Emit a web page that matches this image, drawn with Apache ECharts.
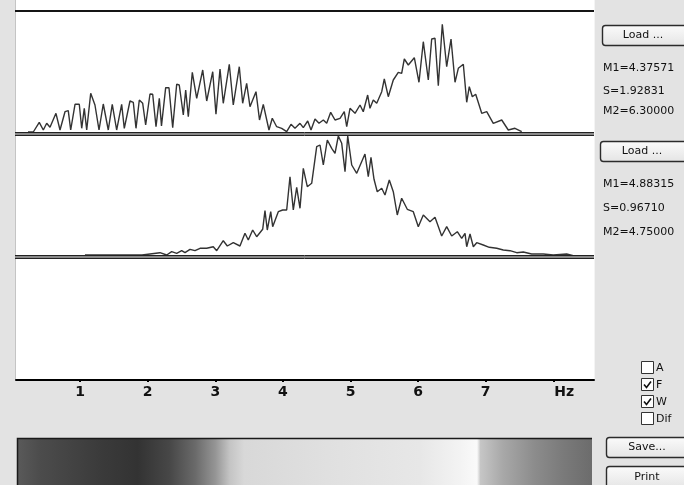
<!DOCTYPE html>
<html>
<head>
<meta charset="utf-8">
<script src="https://cdn.jsdelivr.net/npm/echarts@6/dist/echarts.min.js"></script>
<style>
  html, body { margin: 0; padding: 0; background: #e3e3e3; }
  #main { width: 684px; height: 485px; }
</style>
</head>
<body>
<div id="main"></div>
<script>
// spectrum 1 (upper pane): [Hz, amplitude]
var topSpectrum = [
  [0.229,0],[0.308,0],[0.396,9.7],[0.456,2],[0.506,8.7],[0.555,4.7],[0.643,18.7],[0.703,2],[0.777,20.3],[0.825,21.3],
  [0.861,2],[0.925,27.7],[0.988,27.7],[1.024,3.7],[1.062,23.7],[1.098,2],[1.157,38.7],[1.220,27],[1.280,2],[1.343,28],
  [1.417,2],[1.476,27.7],[1.541,2],[1.615,27.7],[1.654,3.7],[1.738,31],[1.787,29.7],[1.827,3.7],[1.876,32],[1.926,28.7],
  [1.970,7],[2.034,38],[2.074,37.7],[2.123,5.3],[2.172,33.7],[2.204,6],[2.266,44.3],[2.315,44.3],[2.370,4.3],[2.429,47.7],
  [2.467,47],[2.527,17],[2.562,42],[2.601,15.3],[2.660,59.7],[2.725,33.7],[2.814,62],[2.873,31],[2.962,60.3],[3.010,17.7],
  [3.070,63],[3.118,28.7],[3.207,67.7],[3.266,27],[3.355,65.3],[3.405,28.7],[3.464,48.7],[3.513,25.3],[3.602,40.3],[3.654,12],
  [3.710,27.7],[3.794,2],[3.843,13.7],[3.908,5.3],[3.982,3.7],[4.056,0.3],[4.120,7.7],[4.179,3.7],[4.253,8.7],[4.302,4.3],
  [4.367,11],[4.416,2],[4.475,13],[4.534,8.7],[4.598,12],[4.648,8.7],[4.707,19.7],[4.771,12],[4.845,13.7],[4.908,20.3],
  [4.944,5.3],[4.993,23.7],[5.067,18.7],[5.141,27],[5.189,20.3],[5.254,37],[5.288,23.7],[5.337,32],[5.388,28.7],[5.462,40.3],
  [5.500,53],[5.559,35.3],[5.633,52],[5.707,59.7],[5.757,58.7],[5.796,73],[5.855,67],[5.944,74.3],[6.013,49.7],[6.077,90.3],
  [6.151,52],[6.201,93],[6.250,93.7],[6.299,46.3],[6.358,107.7],[6.423,65.3],[6.487,93],[6.546,49.7],[6.595,63.7],[6.669,67.7],
  [6.719,29.7],[6.757,45.3],[6.802,35.3],[6.852,37.7],[6.941,18.7],[7.015,20.3],[7.112,8.7],[7.237,12],[7.334,2],[7.433,3.7],
  [7.533,0.3]
];
// spectrum 2 (middle pane)
var bottomSpectrum = [
  [1.072,1],[1.837,1],[1.861,2.7],[1.916,1],[2.182,3.3],[2.281,1],[2.355,4.3],[2.429,2.7],[2.503,5.3],[2.552,3.3],
  [2.626,6.7],[2.700,5.3],[2.774,7.7],[2.873,7.7],[2.970,9.3],[3.021,5.3],[3.118,15.3],[3.178,10],[3.266,13.3],[3.365,10],
  [3.439,22.7],[3.488,16],[3.553,26],[3.612,19.3],[3.701,26.7],[3.735,45.3],[3.769,26],[3.820,44.3],[3.849,29.3],[3.932,44.3],
  [3.997,46],[4.056,46],[4.105,79.3],[4.154,46],[4.204,68.7],[4.253,47.7],[4.302,87.7],[4.361,69.3],[4.426,72.7],[4.500,109.3],
  [4.549,111],[4.598,91],[4.657,116],[4.722,107.7],[4.771,102.7],[4.820,120],[4.870,112.7],[4.919,84.3],[4.959,120],[5.018,91],
  [5.092,82.7],[5.214,102],[5.263,79.3],[5.303,98.7],[5.348,76.7],[5.396,64.3],[5.462,67.7],[5.510,61],[5.574,76],[5.633,64.3],
  [5.692,41],[5.757,57.7],[5.840,46.7],[5.929,44.3],[6.003,29.3],[6.077,41],[6.176,34.3],[6.250,38.7],[6.349,20],[6.423,29.3],
  [6.497,20],[6.580,24.3],[6.645,17.7],[6.694,22.7],[6.719,9.3],[6.768,22],[6.817,9.3],[6.867,13.3],[6.964,11],[7.053,8.7],
  [7.163,7.7],[7.260,6],[7.359,5.3],[7.459,3.3],[7.556,4],[7.680,2],[7.852,2],[8.000,1],[8.198,2],[8.296,0.3]
];
var freqTicks = [1, 2, 3, 4, 5, 6, 7, 8];
var tickNames = ['1', '2', '3', '4', '5', '6', '7', 'Hz'];
var stats1 = ['M1=4.37571', 'S=1.92831', 'M2=6.30000'];
var stats2 = ['M1=4.88315', 'S=0.96710', 'M2=4.75000'];
var checkNames = ['A', 'F', 'W', 'Dif'];
var checkOn = [false, true, true, false];
var barStops = [
  [0, '#5a5a5a'], [0.04, '#4c4c4c'], [0.15, '#3a3a3a'], [0.21, '#333333'], [0.265, '#474747'],
  [0.31, '#6a6a6a'], [0.345, '#959595'], [0.37, '#c4c4c4'], [0.395, '#d8d8d8'], [0.54, '#e0e0e0'],
  [0.7, '#e7e7e7'], [0.77, '#f3f3f3'], [0.8, '#fafafa'], [0.806, '#c6c6c6'], [0.845, '#a8a8a8'],
  [0.9, '#8c8c8c'], [0.95, '#7a7a7a'], [1, '#6c6c6c']
];

var FONT = '11px "DejaVu Sans", sans-serif';
var xMin = 0.052, xMax = 8.602;

function button(x, y, w, h, label, tx) {
  return {
    type: 'group', z: 20,
    children: [
      { type: 'rect', shape: { x: x, y: y, width: w, height: h, r: 3 },
        style: { fill: new echarts.graphic.LinearGradient(0, 0, 0, 1, [{offset: 0, color: '#fbfbfb'}, {offset: 1, color: '#e4e4e4'}]),
                 stroke: '#2b2b2b', lineWidth: 1.4 } },
      { type: 'text', style: { text: label, x: tx, y: y + h / 2, font: FONT, fill: '#111',
        align: 'center', verticalAlign: 'middle', textAlign: 'center', textVerticalAlign: 'middle' } }
    ]
  };
}
function label(text, x, y) {
  return { type: 'text', z: 20, style: { text: text, x: x, y: y, font: FONT, fill: '#111',
    align: 'left', verticalAlign: 'middle', textAlign: 'left', textVerticalAlign: 'middle' } };
}
function hline(y, color, w) {
  return { type: 'line', z: 10, shape: { x1: 15, y1: y, x2: 594, y2: y }, style: { stroke: color, lineWidth: w } };
}

var graphics = [
  // white plotting area
  { type: 'rect', z: -10, shape: { x: 15, y: 0, width: 579, height: 379 }, style: { fill: '#ffffff' } },
  { type: 'line', z: -9, shape: { x1: 15.5, y1: 0, x2: 15.5, y2: 380 }, style: { stroke: '#c4c4c4', lineWidth: 1 } },
  { type: 'line', z: -9, shape: { x1: 594.5, y1: 0, x2: 594.5, y2: 380 }, style: { stroke: '#f4f4f4', lineWidth: 1 } },
  hline(11, '#151515', 2),
  hline(132.5, '#222', 1), hline(134, '#8a8a8a', 2), hline(135.5, '#222', 1),
  hline(255.5, '#222', 1), hline(257, '#8a8a8a', 2), hline(258.5, '#222', 1),
  // colour bar
  { type: 'rect', z: -5, shape: { x: 17, y: 438, width: 575, height: 50 },
    style: { fill: new echarts.graphic.LinearGradient(0, 0, 1, 0, barStops.map(function (s) { return { offset: s[0], color: s[1] }; })) } },
  { type: 'polyline', z: -4, shape: { points: [[17.5, 488], [17.5, 438.5], [592, 438.5]] }, style: { stroke: '#1a1a1a', lineWidth: 1.5, fill: null } },
  button(602.5, 25.5, 90, 20, 'Load ...', 643),
  button(600.5, 141.5, 92, 20, 'Load ...', 642),
  button(606.5, 437.5, 90, 20, 'Save...', 647),
  button(606.5, 466.5, 90, 22, 'Print', 647)
];
stats1.forEach(function (s, i) { graphics.push(label(s, 603, [68, 91, 111][i])); });
stats2.forEach(function (s, i) { graphics.push(label(s, 603, [184, 208, 232][i])); });
checkNames.forEach(function (n, i) {
  var y = 361 + i * 17;
  graphics.push({ type: 'rect', z: 20, shape: { x: 641.5, y: y + 0.5, width: 12, height: 12 }, style: { fill: '#fff', stroke: '#333', lineWidth: 1 } });
  if (checkOn[i]) {
    graphics.push({ type: 'polyline', z: 21, shape: { points: [[644, y + 6.5], [646.5, y + 9.5], [651, y + 3.5]] }, style: { stroke: '#111', lineWidth: 1.6, fill: null } });
  }
  graphics.push(label(n, 656, y + 7));
});

function xAx(idx, show) {
  return {
    type: 'value', gridIndex: idx, min: xMin, max: xMax, show: show,
    axisLine: { show: true, lineStyle: { color: '#000', width: 2 } },
    axisTick: { show: true, length: 2, customValues: freqTicks, lineStyle: { color: '#000', width: 2 } },
    axisLabel: {
      show: true, customValues: freqTicks, margin: 5, color: '#111',
      fontFamily: 'DejaVu Sans', fontWeight: 'bold', fontSize: 14,
      formatter: function (v) {
        var s = tickNames[freqTicks.indexOf(v)];
        return s === 'Hz' ? '{hz|Hz}' : s;
      },
      rich: { hz: { fontFamily: 'DejaVu Sans', fontWeight: 'bold', fontSize: 14, color: '#111', padding: [0, 0, 0, 22] } }
    },
    splitLine: { show: false }
  };
}
function yAx(idx) {
  return { type: 'value', gridIndex: idx, min: 0, max: 121, show: false, splitLine: { show: false } };
}

var option = {
  animation: false,
  backgroundColor: '#e3e3e3',
  grid: [
    { left: 16, right: 90, top: 11, height: 121 },
    { left: 16, right: 90, top: 135, height: 121 },
    { left: 16, right: 90, top: 259, height: 121 }
  ],
  xAxis: [xAx(0, false), xAx(1, false), xAx(2, true)],
  yAxis: [yAx(0), yAx(1), yAx(2)],
  series: [
    { type: 'line', xAxisIndex: 0, yAxisIndex: 0, data: topSpectrum, showSymbol: false, z: 5,
      lineStyle: { color: '#333', width: 1.4 } },
    { type: 'line', xAxisIndex: 1, yAxisIndex: 1, data: bottomSpectrum, showSymbol: false, z: 5,
      lineStyle: { color: '#333', width: 1.4 } }
  ],
  graphic: graphics
};

var chart = echarts.init(document.getElementById('main'));
chart.setOption(option);
</script>
</body>
</html>
